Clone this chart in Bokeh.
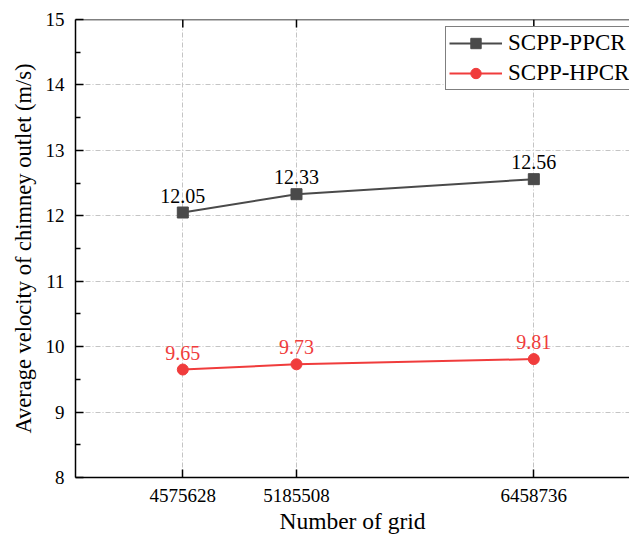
from bokeh.plotting import figure
from bokeh.models import (Range1d, FixedTicker, Legend, LegendItem, Span,
                          ColumnDataSource, LabelSet, BasicTickFormatter)
from bokeh.embed import file_html
from bokeh.resources import INLINE

# Grid sizes and the two chimney-outlet velocity series
grid_counts = [4575628, 5185508, 6458736]
ppcr_velocity = [12.05, 12.33, 12.56]
hpcr_velocity = [9.65, 9.73, 9.81]
ppcr_labels = ["12.05", "12.33", "12.56"]
hpcr_labels = ["9.65", "9.73", "9.81"]
y_ticks = [8, 9, 10, 11, 12, 13, 14, 15]

FONT = "Liberation Serif"
DARK = "#4a4a4a"
RED = "#f03c3c"

Y0, Y1 = 8, 15
FRAME_H = 536 - 19 - 59

p = figure(width=629, height=536, output_backend="svg", toolbar_location=None,
           x_range=Range1d(4000000, 6972000), y_range=Range1d(Y0, Y1),
           min_border_left=75, min_border_right=0, min_border_top=19,
           min_border_bottom=59)
p.outline_line_color = None
p.background_fill_color = "white"

# Axes
for ax in (p.xaxis[0], p.yaxis[0]):
    ax.axis_line_width = 1.5
    ax.axis_line_color = "black"
    ax.major_tick_line_color = "black"
    ax.major_tick_line_width = 1.5
    ax.major_tick_in = 8
    ax.major_tick_out = 0
    ax.minor_tick_in = 5
    ax.minor_tick_out = 0
    ax.major_label_text_font = FONT
    ax.major_label_text_color = "black"
    ax.axis_label_text_font = FONT
    ax.axis_label_text_font_style = "normal"
    ax.axis_label_text_color = "black"

p.xaxis[0].ticker = FixedTicker(ticks=grid_counts)
p.xaxis[0].formatter = BasicTickFormatter(use_scientific=False)
p.xaxis[0].minor_tick_line_color = None
p.xaxis[0].major_label_text_font_size = "19px"
p.xaxis[0].major_label_standoff = 11
p.xaxis[0].axis_label = "Number of grid"
p.xaxis[0].axis_label_text_font_size = "23.5px"
p.xaxis[0].axis_label_standoff = 3

p.yaxis[0].ticker = FixedTicker(ticks=y_ticks,
                                minor_ticks=[v + 0.5 for v in y_ticks[:-1]])
p.yaxis[0].minor_tick_line_width = 1.5
p.yaxis[0].major_label_text_font_size = "19px"
p.yaxis[0].major_label_standoff = 11
p.yaxis[0].axis_label = "Average velocity of chimney outlet (m/s)"
p.yaxis[0].axis_label_text_font_size = "22.5px"
p.yaxis[0].axis_label_standoff = 7

# Top border line and inward ticks at the grid sizes
p.add_layout(Span(location=Y1, dimension="width", line_color="black",
                  line_width=1.5))
tick_len = 8 * (Y1 - Y0) / FRAME_H
p.segment(x0=grid_counts, y0=[Y1] * 3, x1=grid_counts, y1=[Y1 - tick_len] * 3,
          line_color="black", line_width=1.5)

# Dash-dot grid
for g in (p.xgrid[0], p.ygrid[0]):
    g.grid_line_color = "#c4c4c4"
    g.grid_line_width = 1
    g.grid_line_dash = "5 2 1 2"
p.xgrid[0].ticker = FixedTicker(ticks=grid_counts)
p.ygrid[0].ticker = FixedTicker(ticks=y_ticks[1:-1])

src = ColumnDataSource(dict(x=grid_counts, ppcr=ppcr_velocity, hpcr=hpcr_velocity,
                            ppcr_lab=ppcr_labels, hpcr_lab=hpcr_labels))

l1 = p.line("x", "ppcr", source=src, line_color=DARK, line_width=2)
m1 = p.scatter("x", "ppcr", source=src, marker="square", size=11,
               fill_color=DARK, line_color=DARK)
l2 = p.line("x", "hpcr", source=src, line_color=RED, line_width=2)
m2 = p.scatter("x", "hpcr", source=src, marker="circle", size=11,
               fill_color=RED, line_color=RED)

p.add_layout(LabelSet(x="x", y="ppcr", text="ppcr_lab", source=src,
                      text_align="center", text_baseline="alphabetic",
                      y_offset=10, text_font=FONT, text_font_size="20px",
                      text_color="black"))
p.add_layout(LabelSet(x="x", y="hpcr", text="hpcr_lab", source=src,
                      text_align="center", text_baseline="alphabetic",
                      y_offset=10, text_font=FONT, text_font_size="20px",
                      text_color=RED))

legend = Legend(items=[LegendItem(label="SCPP-PPCR", renderers=[l1, m1]),
                       LegendItem(label="SCPP-HPCR", renderers=[l2, m2])],
                location=(370, 387))
legend.label_text_font = FONT
legend.label_text_font_size = "23px"
legend.label_text_color = "black"
legend.glyph_width = 53
legend.glyph_height = 26
legend.spacing = 4
legend.padding = 3
legend.margin = 0
legend.label_standoff = 6
legend.border_line_color = "black"
legend.border_line_width = 1.2
legend.background_fill_alpha = 1
p.add_layout(legend, "center")

open("out.html", "w").write(file_html(p, INLINE))
